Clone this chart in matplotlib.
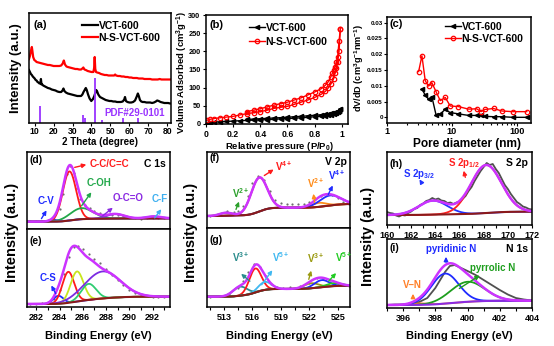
import matplotlib
matplotlib.use('Agg')
import matplotlib.pyplot as plt
import numpy as np
from matplotlib.ticker import MultipleLocator, FixedLocator, NullLocator

plt.rcParams['font.family'] = ['Liberation Sans', 'DejaVu Sans']
plt.rcParams['font.weight'] = 'bold'
plt.rcParams['mathtext.fontset'] = 'custom'
plt.rcParams['mathtext.rm'] = 'Liberation Sans:bold'
plt.rcParams['mathtext.bf'] = 'Liberation Sans:bold'
plt.rcParams['mathtext.it'] = 'Liberation Sans:bold'
plt.rcParams['mathtext.default'] = 'regular'
plt.rcParams['axes.linewidth'] = 1.1

# ---------------- (a) XRD ----------------
xrd_black_x = [7.0, 7.5, 8.0, 8.5, 9.0, 9.5, 10.0, 10.5, 11.0, 11.5, 12.0, 12.5, 13.0, 13.3, 13.6, 14.0,
               14.5, 15.0, 16.0, 17.0, 18.0, 19.0, 20.0, 21.0, 22.0, 23.0, 24.0, 24.7, 25.2, 25.7, 26.5,
               27.5, 28.5, 29.5, 30.5, 31.5, 32.5, 33.5, 34.5, 35.2, 35.8, 36.4, 37.0, 37.5, 38.2, 39.0,
               39.9, 40.8, 41.5, 42.0, 42.5, 43.0, 43.6, 44.5, 45.5, 46.5, 47.5, 48.5, 49.5, 50.5, 51.5,
               52.5, 53.5, 54.5, 55.5, 56.5, 57.3, 57.7, 58.2, 59.0, 60.0, 61.0, 62.0, 63.0, 63.8, 64.5,
               65.0, 65.6, 66.3, 67.0, 68.0, 69.0, 70.0, 71.0, 72.0, 73.0, 74.0, 74.7, 75.5, 76.5, 77.5,
               78.5, 79.5, 80.5, 81.5, 82.0]
xrd_black_y = [53, 51, 49, 48, 46.5, 45.5, 44.5, 43, 42.5, 41, 40.5, 39.5, 39.5, 44, 38.5, 38.5,
               37.5, 37, 36, 35, 34.5, 33.5, 33, 32.5, 31.5, 31, 31, 32.5, 34.5, 32, 30.5,
               29.5, 29, 28.5, 28, 27.5, 27, 27, 27, 28.5, 31, 33, 35, 33, 28.5, 24.5,
               22, 24, 27, 30, 33, 31.5, 28.5, 26, 25, 24, 23, 22.5, 22, 22, 21.5,
               21.5, 21, 21, 21, 21.5, 23.5, 26, 22, 21, 20.5, 20.5, 21, 22.5, 26, 29.5,
               27, 23, 21.5, 21, 21, 20.5, 20.5, 20.5, 20, 20.5, 21.5, 22.5, 22, 21, 20.5,
               20, 20, 20, 19.5, 19.5]
xrd_red_x = [7.0, 7.5, 8.0, 8.5, 8.8, 9.2, 9.8, 10.5, 11.0, 12.0, 13.0, 14.0, 15.0, 16.0, 17.0, 18.0,
             19.0, 20.0, 21.0, 22.0, 23.0, 24.0, 24.8, 25.4, 26.0, 26.8, 27.5, 28.5, 29.5, 30.5, 31.5,
             32.5, 33.5, 34.5, 35.2, 35.7, 36.3, 37.0, 38.0, 39.0, 40.0, 41.0, 41.4, 41.7, 42.0, 42.4,
             43.0, 44.0, 45.0, 46.0, 47.0, 48.0, 49.0, 50.0, 51.0, 52.0, 52.5, 53.0, 54.0, 55.0, 56.0,
             57.0, 58.0, 59.0, 60.0, 61.0, 62.0, 63.0, 64.0, 65.0, 66.0, 67.0, 68.0, 69.0, 70.0, 71.0,
             72.0, 73.0, 74.0, 75.0, 76.0, 77.0, 78.0, 79.0, 80.0, 81.0, 82.0]
xrd_red_y = [64, 67, 72, 76, 72, 66, 63, 62, 61, 60.5, 60, 59.5, 59, 58.5, 58, 58,
             57.5, 57, 57, 57, 57, 57.5, 59.5, 62.5, 58.5, 56.5, 56, 55.5, 55, 54.5, 54,
             54, 53.5, 53.5, 54.5, 55.5, 53.5, 53, 52, 51.5, 51, 51, 55, 66, 54, 51,
             50.5, 50, 49, 48.5, 48, 48, 47.5, 47.5, 47.5, 47.5, 48.5, 47.5, 47, 47, 46.5,
             46.5, 46, 46, 45.5, 45.5, 45, 45, 45, 44.5, 44.5, 44.5, 44, 44, 44, 44,
             43.5, 43.5, 43.5, 43.5, 44, 43.5, 43.5, 43.5, 43.5, 43.5, 43.5]
pdf_pos = [13.0, 35.5, 36.5, 41.7, 45.7, 56.7, 64.6]
pdf_int = [17, 8, 5, 45, 3, 5, 5]

# ---------------- (b) N2 isotherms ----------------
p_ads = [0.005, 0.03, 0.06, 0.1, 0.15, 0.2, 0.25, 0.3, 0.35, 0.4, 0.45, 0.5, 0.55, 0.6, 0.65, 0.7,
         0.75, 0.8, 0.85, 0.88, 0.9, 0.92, 0.94, 0.95, 0.96, 0.97, 0.98, 0.99]
p_des = [0.99, 0.98, 0.97, 0.96, 0.95, 0.94, 0.93, 0.92, 0.9, 0.88, 0.85, 0.8, 0.75, 0.7, 0.65, 0.6,
         0.55, 0.5, 0.45, 0.4, 0.35, 0.3]
vct_ads = [3, 4, 5, 6, 7, 8, 9, 10, 10.5, 11, 12, 13, 14, 15, 16, 17, 18.5, 20, 22, 23, 24, 26, 28,
           29, 31, 33, 36, 40]
vct_des = [40, 37, 35, 33, 32, 31, 30, 29, 28, 27, 25.5, 24, 22.5, 21, 20, 18.5, 17.5, 16.5, 15.5,
           14.5, 13.5, 12.5]
nsvct_ads = [10, 13, 15, 17, 19, 21, 25, 28.5, 31, 34, 38, 43, 46, 48.5, 54, 60, 66, 73, 82, 90, 99,
             110, 125, 140, 155, 170, 200, 262]
nsvct_des = [262, 228, 185, 170, 158, 148, 139, 130, 116, 107, 97.5, 88, 80, 72, 66, 60, 56, 52, 47,
             42, 38, 34]

# ---------------- (c) pore size distribution ----------------
pore_d_red = [3.07, 3.45, 3.88, 4.37, 4.9, 5.7, 6.6, 7.9, 9.4, 12.6, 18, 24, 28, 32.4, 43.7, 58.8,
              86.5, 142]
pore_v_red = [0.0145, 0.0195, 0.0116, 0.0099, 0.011, 0.0081, 0.0053, 0.0063, 0.0036, 0.0034, 0.0026,
              0.0027, 0.0018, 0.0025, 0.0028, 0.0020, 0.0018, 0.0018]
pore_d_black = [3.45, 3.88, 4.37, 4.9, 5.7, 6.6, 7.9, 9.4, 12.6, 18, 24, 28, 32.4, 43.7, 58.8, 86.5, 142]
pore_v_black = [0.0089, 0.0071, 0.0057, 0.0066, 0.0007, 0.0011, 0.0025, 0.0015, 0.0011, 0.0006, 0.0006,
                0.0007, 0.0003, 0.0002, 0.0002, 0.0, 0.0]

# ---------------- XPS fits: centers (eV), heights, FWHM ----------------
# (d) C 1s, VCT-600: C-V, C-C/C=C, C-OH, O-C=O, C-F
d_center = [283.6, 284.85, 285.9, 288.8, 292.1]
d_height = [1.5, 49, 11, 4.5, 2]
d_fwhm = [1.0, 1.34, 2.3, 1.8, 1.5]
d_colors = ['#1f2bff', '#ff1a1a', '#22a84a', '#8a2be2', '#3fb0f0']
d_bg = (7.3, 10.7)
d_raw_x = [281.5, 282.0, 282.5, 283.0, 283.5, 284.0, 284.3, 284.6, 284.9, 285.2, 285.5, 285.8, 286.2,
           286.6, 287.0, 287.5, 288.0, 288.5, 289.0, 289.5, 290.0, 290.5, 291.0, 291.5, 292.0, 292.5, 293.0]
d_raw_y = [8, 8, 8.5, 9, 10.5, 20, 35, 55, 63, 56, 41, 30, 24, 21, 18.5, 16, 14.5, 14, 14, 13, 11.5,
           11, 10.5, 11, 11.5, 11.5, 11]

# (e) C 1s, N-S-VCT-600: C-S, C-C, C-N, C-O, broad
e_center = [283.9, 284.75, 285.5, 286.5, 287.7]
e_height = [8, 31, 30, 16, 27]
e_fwhm = [1.0, 1.2, 1.3, 1.5, 3.6]
e_colors = ['#1f2bff', '#ff1a1a', '#c8e61e', '#2ecc71', '#7b2be2']
e_bg = (3.0, 10.3)
e_raw_x = [281.5, 282.0, 282.5, 283.0, 283.5, 284.0, 284.4, 284.8, 285.2, 285.6, 286.0, 286.5, 287.0,
           287.5, 288.0, 288.5, 289.0, 289.5, 290.0, 290.5, 291.0, 291.5, 292.0, 292.5, 293.0]
e_raw_y = [3.5, 3.5, 4, 5, 8, 17, 33, 50, 60, 61, 58, 53, 48, 44, 38, 32, 27, 22, 17, 14, 12, 11,
           10.5, 10.5, 10.5]

# (f) V 2p, VCT-600: V2+, V4+, V2+, V4+
f_center = [513.2, 516.7, 523.0, 524.2]
f_height = [3, 34, 4, 10]
f_fwhm = [1.6, 2.0, 1.8, 2.6]
f_colors = ['#2ca02c', '#ff1a1a', '#ff8c1a', '#1f2bff']
f_bg = (12.0, 24.0)
f_raw_x = [511.5, 512.5, 513.3, 514.0, 514.5, 515.0, 515.5, 516.0, 516.6, 517.2, 517.8, 518.4, 519.0,
           519.6, 520.2, 520.8, 521.4, 522.0, 522.6, 523.2, 523.8, 524.4, 525.0, 525.6, 526.2]
f_raw_y = [12, 14, 17, 16.5, 17.5, 22, 32, 45, 52, 48, 37, 28, 25, 24, 24, 24, 24.5, 26, 29, 32, 34,
           33.5, 30, 26, 24]

# (g) V 2p, N-S-VCT-600: V3+, V4+, V5+, V3+, V4+, V5+
g_center = [514.7, 516.3, 517.3, 522.2, 523.3, 524.6]
g_height = [9, 24, 8, 5, 7, 3]
g_fwhm = [1.8, 1.5, 1.6, 1.8, 1.8, 1.8]
g_colors = ['#2a8c8c', '#ff1a1a', '#40b8f0', '#9a9a10', '#1f2bff', '#22cc22']
g_bg = (10.3, 21.3)
g_raw_x = [511.5, 512.5, 513.5, 514.5, 515.0, 515.5, 516.2, 516.8, 517.4, 518.0, 518.6, 519.2, 520.0,
           521.0, 522.0, 522.8, 523.5, 524.2, 525.0, 525.6, 526.2]
g_raw_y = [10.5, 11.5, 13, 19, 26, 35, 43, 40, 31, 23, 20, 19.5, 20, 21, 24, 28.7, 28, 25, 22.5, 22,
           21.5]

# (h) S 2p: S 2p3/2, S 2p1/2
h_center = [163.8, 168.2]
h_height = [14, 48]
h_fwhm = [2.8, 3.0]
h_colors = ['#2233ff', '#ff2020']
h_bg = (10.0, 13.3)
h_raw_x = [160.0, 160.25, 160.5, 160.75, 161.0, 161.25, 161.5, 161.75, 162.0, 162.25, 162.5, 162.75,
           163.0, 163.25, 163.5, 163.75, 164.0, 164.25, 164.5, 164.75, 165.0, 165.25, 165.5, 165.75,
           166.0, 166.25, 166.5, 166.75, 167.0, 167.25, 167.5, 167.75, 168.0, 168.25, 168.5, 168.75,
           169.0, 169.25, 169.5, 169.75, 170.0, 170.25, 170.5, 170.75, 171.0, 171.25, 171.5, 171.75, 172.0]
h_raw_y = [13, 12, 11.5, 9.5, 8.5, 10, 9.5, 12, 13.5, 16, 17, 20, 21.5, 24, 25, 27, 25.5, 26.5, 24.5,
           24, 22, 22.5, 21, 22.5, 23, 26, 29, 34, 38, 44, 49, 54, 58, 62, 60, 61, 56, 52, 46, 40, 36,
           31, 27, 23, 21, 18.5, 17.5, 16, 15.5]

# (i) N 1s: V-N, pyridinic N, pyrrolic N
i_center = [397.0, 398.6, 400.0]
i_height = [1.5, 30, 20]
i_fwhm = [1.2, 2.0, 2.5]
i_colors = ['#ff7f27', '#1f2bff', '#1e9e1e']
i_bg = (3.0, 7.3)
i_raw_x = [395.0, 395.5, 396.0, 396.5, 397.0, 397.5, 398.0, 398.3, 398.6, 398.9, 399.2, 399.6, 400.0,
           400.5, 401.0, 401.5, 402.0, 402.5, 403.0, 403.5, 404.0]
i_raw_y = [3, 3.5, 3.5, 4.5, 6, 10, 20, 28, 36, 42, 43, 40, 37, 33, 28, 23, 18, 13.5, 10, 8.5, 7.5]

W, H = 554, 346
ENV = '#cc33ff'
BG = '#8b1a1a'


def box(x0, y0, x1, y1):
    return [x0 / W, 1 - y1 / H, (x1 - x0) / W, (y1 - y0) / H]


def fpos(x, y):
    return (x / W, 1 - y / H)


def gauss(x, c, h, w):
    return h * np.exp(-4 * np.log(2) * (x - c) ** 2 / w ** 2)


def xps(ax, xlim, centers, heights, fwhms, colors, bg_ends, raw_x, raw_y,
        bg_color=BG, raw_line=False):
    x = np.linspace(xlim[0], xlim[1], 600)
    comps = [gauss(x, c, h, w) for c, h, w in zip(centers, heights, fwhms)]
    total = np.sum(comps, axis=0)
    area = np.cumsum(total)
    bg = bg_ends[0] + (bg_ends[1] - bg_ends[0]) * area / area[-1]
    if raw_line:
        ax.plot(raw_x, raw_y, color='#505050', lw=1.3)
    else:
        ax.plot(raw_x, raw_y, 'o', color='#6e6e6e', ms=1.6, mew=0)
    for comp, col in zip(comps, colors):
        ax.plot(x, bg + comp, color=col, lw=1.3)
    ax.plot(x, bg, color=bg_color, lw=1.5)
    ax.plot(x, bg + total, color=ENV, lw=1.8)
    ax.set_xlim(xlim)
    ax.yaxis.set_major_locator(NullLocator())


def label(x, y, s, color='black', size=7, ha='left', **kw):
    fig.text(x / W, 1 - y / H, s, color=color, fontsize=size, ha=ha, va='center', **kw)


def arrow(tail, head, color):
    fig.add_artist(matplotlib.patches.FancyArrowPatch(
        fpos(*tail), fpos(*head), transform=fig.transFigure, arrowstyle='-|>',
        mutation_scale=6, color=color, lw=1.0))


fig = plt.figure(figsize=(5.54, 3.46), dpi=100)

tick_kw = dict(direction='out', length=2.5, width=0.8, pad=1.5)

# (a)
ax = fig.add_axes(box(29, 13, 171, 123))
ax.plot(xrd_black_x, xrd_black_y, color='black', lw=1.6, label='VCT-600')
ax.plot(xrd_red_x, xrd_red_y, color='#ff0000', lw=1.6, label='N-S-VCT-600')
ax.vlines(pdf_pos, 0, pdf_int, color='#9933ff', lw=1.3)
ax.text(63, 10, 'PDF#29-0101', color='#9933ff', fontsize=7, ha='center', va='center')
ax.set_xlim(7, 82)
ax.set_ylim(0, 110)
ax.set_xticks(range(10, 81, 10))
ax.set_yticks([])
ax.tick_params(labelsize=6.2, direction='out', length=2.2, width=0.8, pad=1)
ax.legend(loc='upper left', bbox_to_anchor=fpos(82, 21), bbox_transform=fig.transFigure,
          frameon=False, fontsize=7.5, handlelength=1.5, handletextpad=0.1,
          labelspacing=0.15, borderpad=0, borderaxespad=0)
label(33, 25, '(a)', size=8)
label(100, 142, '2 Theta (degree)', size=7.0, ha='center')
fig.text(16 / W, 1 - 68 / H, 'Intensity (a.u.)', fontsize=9.5, rotation=90, ha='center', va='center')

# (b)
ax = fig.add_axes(box(206, 15, 348, 124))
ax.plot(p_ads, vct_ads, color='black', marker='<', ms=3, lw=1.0, label='VCT-600')
ax.plot(p_des, vct_des, color='black', marker='<', ms=3, lw=1.0)
ax.plot(p_ads, nsvct_ads, color='#ff0000', marker='o', ms=3.2, mfc='none', mew=0.9, lw=1.0,
        label='N-S-VCT-600')
ax.plot(p_des, nsvct_des, color='#ff0000', marker='o', ms=3.2, mfc='none', mew=0.9, lw=1.0)
ax.set_xlim(0, 1.046)
ax.set_ylim(0, 300)
ax.set_xticks([0, 0.2, 0.4, 0.6, 0.8, 1])
ax.set_xticklabels(['0', '0.2', '0.4', '0.6', '0.8', '1'])
ax.set_yticks(range(0, 301, 50))
ax.tick_params(axis='x', labelsize=6.2, **tick_kw)
ax.tick_params(axis='y', labelsize=5.3, **tick_kw)
ax.legend(loc='upper left', bbox_to_anchor=fpos(249, 23), bbox_transform=fig.transFigure,
          frameon=False, fontsize=7.5, handlelength=1.5, handletextpad=0.1,
          labelspacing=0.35, borderpad=0, borderaxespad=0)
label(209, 25, '(b)', size=8)
label(279, 146, 'Relative pressure (P/P$_0$)', size=6.8, ha='center')
fig.text(182 / W, 1 - 72 / H, 'Volume Adsorbed (cm$^3$g$^{-1}$)', fontsize=6.8, rotation=90,
         ha='center', va='center')

# (c)
ax = fig.add_axes(box(387, 17, 531, 123))
ax.plot(pore_d_black, pore_v_black, color='black', marker='<', ms=3, lw=1.0, label='VCT-600')
ax.plot(pore_d_red, pore_v_red, color='#ff0000', marker='o', ms=3.2, mfc='none', mew=0.9, lw=1.0,
        label='N-S-VCT-600')
ax.set_xscale('log')
ax.set_xlim(1, 165)
ax.set_ylim(-0.0018, 0.0318)
ax.set_xticks([1, 10, 100])
ax.set_xticklabels(['1', '10', '100'])
ax.set_yticks([0, 0.005, 0.01, 0.015, 0.02, 0.025, 0.03])
ax.set_yticklabels(['0', '0.005', '0.01', '0.015', '0.02', '0.025', '0.03'])
ax.tick_params(axis='x', which='both', labelsize=6.6, direction='out', length=2.2, width=0.8, pad=1)
ax.tick_params(axis='x', which='minor', length=1.4)
ax.tick_params(axis='y', labelsize=4.5, direction='out', length=2, width=0.8, pad=1)
ax.legend(loc='upper left', bbox_to_anchor=fpos(445, 22), bbox_transform=fig.transFigure,
          frameon=False, fontsize=7.5, handlelength=1.5, handletextpad=0.1,
          labelspacing=0.2, borderpad=0, borderaxespad=0)
label(389, 24, '(c)', size=8)
label(467, 144, 'Pore diameter (nm)', size=8.6, ha='center')
fig.text(359 / W, 1 - 68 / H, 'dV/dD (cm$^3$g$^{-1}$nm$^{-1}$)', fontsize=6.6, rotation=90,
         ha='center', va='center')

# (d) / (e)
ax = fig.add_axes(box(27, 152, 170, 229))
xps(ax, (281.2, 293.5), d_center, d_height, d_fwhm, d_colors, d_bg, d_raw_x, d_raw_y)
ax.set_ylim(0, 77)
ax.set_xticks([])
ax = fig.add_axes(box(27, 229, 170, 307))
xps(ax, (281.2, 293.5), e_center, e_height, e_fwhm, e_colors, e_bg, e_raw_x, e_raw_y)
ax.set_ylim(0, 78)
ax.xaxis.set_major_locator(MultipleLocator(2))
ax.xaxis.set_minor_locator(MultipleLocator(1))
ax.tick_params(axis='x', which='both', labelsize=6.5, **tick_kw)
ax.tick_params(axis='x', which='minor', length=1.8)

label(29, 160, '(d)', size=7.5)
label(166, 164, 'C 1s', size=7.5, ha='right')
label(90, 164, 'C-C/C=C', color='#ff1a1a')
label(87, 183, 'C-OH', color='#22a84a')
label(113, 198, 'O-C=O', color='#8a2be2')
label(152, 199, 'C-F', color='#3fb0f0')
label(38, 201, 'C-V', color='#1f2bff')
arrow((72, 168), (89, 164), '#ff1a1a')
arrow((80, 208), (93, 190), '#22a84a')
arrow((100, 218), (115, 206), '#8a2be2')
arrow((153, 220), (163, 207), '#3fb0f0')
arrow((40, 221), (48, 208), '#1f2bff')
label(29, 241, '(e)', size=7.5)
label(40, 278, 'C-S', color='#1f2bff')
arrow((57, 296), (50, 283), '#1f2bff')
label(98, 336, 'Binding Energy (eV)', size=8, ha='center')
fig.text(12 / W, 1 - 232 / H, 'Intensity (a.u.)', fontsize=10.5, rotation=90, ha='center', va='center')

# (f) / (g)
ax = fig.add_axes(box(207, 152, 350, 228))
xps(ax, (511.2, 526.3), f_center, f_height, f_fwhm, f_colors, f_bg, f_raw_x, f_raw_y)
ax.set_ylim(0, 76)
ax.set_xticks([])
ax = fig.add_axes(box(207, 228, 350, 307))
xps(ax, (511.2, 526.3), g_center, g_height, g_fwhm, g_colors, g_bg, g_raw_x, g_raw_y)
ax.set_ylim(0, 79)
ax.xaxis.set_major_locator(FixedLocator([513, 516, 519, 522, 525]))
ax.xaxis.set_minor_locator(MultipleLocator(1.5))
ax.tick_params(axis='x', which='both', labelsize=6.5, **tick_kw)

label(210, 158, '(f)', size=7.5)
label(347, 162, 'V 2p', size=7.5, ha='right')
label(275, 166, 'V$^{4+}$', color='#ff1a1a')
label(232, 193, 'V$^{2+}$', color='#2ca02c')
label(307, 183, 'V$^{2+}$', color='#ff8c1a')
label(328, 175, 'V$^{4+}$', color='#1f2bff')
arrow((262, 177), (276, 168), '#ff1a1a')
arrow((235, 212), (240, 199), '#2ca02c')
arrow((315, 205), (313, 191), '#ff8c1a')
arrow((327, 197), (334, 183), '#1f2bff')
label(210, 240, '(g)', size=7.5)
label(232, 257, 'V$^{3+}$', color='#2a8c8c')
label(272, 257, 'V$^{5+}$', color='#40b8f0')
label(307, 258, 'V$^{3+}$', color='#9a9a10')
label(335, 257, 'V$^{5+}$', color='#22cc22')
arrow((252, 283), (239, 272), '#2a8c8c')
arrow((260, 287), (274, 268), '#40b8f0')
arrow((308, 282), (312, 268), '#9a9a10')
arrow((327, 283), (338, 271), '#22cc22')
label(279, 336, 'Binding Energy (eV)', size=8, ha='center')
fig.text(191 / W, 1 - 232 / H, 'Intensity (a.u.)', fontsize=10.5, rotation=90, ha='center', va='center')

# (h) / (i)
ax = fig.add_axes(box(387, 152, 532, 225))
xps(ax, (160, 172), h_center, h_height, h_fwhm, h_colors, h_bg, h_raw_x, h_raw_y, raw_line=True)
ax.set_ylim(0, 73)
ax.xaxis.set_major_locator(MultipleLocator(2))
ax.xaxis.set_minor_locator(MultipleLocator(1))
ax.tick_params(axis='x', which='both', labelsize=6.5, **tick_kw)
ax = fig.add_axes(box(387, 239, 532, 308))
xps(ax, (395, 404), i_center, i_height, i_fwhm, i_colors, i_bg, i_raw_x, i_raw_y,
    bg_color='#8a2be2', raw_line=True)
ax.set_ylim(0, 69)
ax.xaxis.set_major_locator(MultipleLocator(2))
ax.xaxis.set_minor_locator(MultipleLocator(1))
ax.tick_params(axis='x', which='both', labelsize=6.5, **tick_kw)

label(390, 164, '(h)', size=7.5)
label(403, 174, 'S 2p$_{3/2}$', color='#2233ff')
label(448, 163, 'S 2p$_{1/2}$', color='#ff2020')
label(528, 163, 'S 2p', size=7.5, ha='right')
arrow((423, 185), (418, 177), '#2233ff')
arrow((466, 180), (463, 168), '#ff2020')
label(390, 248, '(i)', size=7.5)
label(426, 249, 'pyridinic N', color='#1f2bff')
label(528, 249, 'N 1s', size=7.5, ha='right')
label(470, 268, 'pyrrolic N', color='#1e9e1e')
label(403, 285, 'V\u2013N', color='#ff7f27')
arrow((446, 265), (446, 254), '#1f2bff')
arrow((457, 290), (482, 274), '#1e9e1e')
arrow((413, 300), (413, 291), '#ff7f27')
label(459, 336, 'Binding Energy (eV)', size=8, ha='center')
fig.text(368 / W, 1 - 236 / H, 'Intensity (a.u.)', fontsize=10.5, rotation=90, ha='center', va='center')

plt.savefig('out.png', dpi=100)
